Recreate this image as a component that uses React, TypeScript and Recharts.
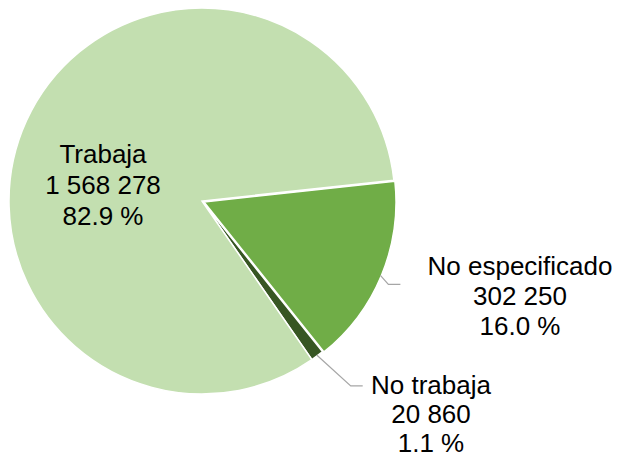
import React from 'react';
import { PieChart, Pie, Cell } from 'recharts';

const categories = ['No especificado', 'No trabaja', 'Trabaja'];
const values = [302250, 20860, 1568278];
const colors = ['#70AD47', '#375623', '#C3DFB0'];

const data = categories.map((name, i) => ({ name, value: values[i] }));
const total = values.reduce((a, b) => a + b, 0);

const fmtNum = (v: number) => String(v).replace(/\B(?=(\d{3})+(?!\d))/g, ' ');
const fmtPct = (v: number) => ((v / total) * 100).toFixed(1) + ' %';

const RAD = Math.PI / 180;
const FONT = 'Liberation Sans, Arial, sans-serif';
const FS = 26;

type Layout = {
  textDx: number;
  baseDy: number;
  lineGap: number;
  elbow?: [number, number];
  tail?: number;
};

const layouts: Record<string, Layout> = {
  Trabaja: { textDx: -99, baseDy: -38, lineGap: 30.8 },
  'No especificado': { textDx: 316, baseDy: 73, lineGap: 30, elbow: [8, 9], tail: 12 },
  'No trabaja': { textDx: 229, baseDy: 193, lineGap: 29, elbow: [34, 31], tail: 12 },
};

const makeLabel = (allowed: string[]) => (props: any) => {
  const { cx, cy, midAngle, outerRadius, name, value } = props;
  if (!allowed.includes(name)) return null;
  const lay = layouts[name];
  const tx = cx + lay.textDx;
  const ty = cy + lay.baseDy;
  let line = null;
  if (lay.elbow) {
    const ex = cx + (outerRadius - 1) * Math.cos(-midAngle * RAD);
    const ey = cy + (outerRadius - 1) * Math.sin(-midAngle * RAD);
    const bx = ex + lay.elbow[0];
    const by = ey + lay.elbow[1];
    const tx2 = bx + (lay.tail || 0);
    line = (
      <polyline
        points={`${ex},${ey} ${bx},${by} ${tx2},${by}`}
        fill="none"
        stroke="#A6A6A6"
        strokeWidth={1.2}
      />
    );
  }
  return (
    <g>
      {line}
      <text
        x={tx}
        y={ty}
        textAnchor="middle"
        fontFamily={FONT}
        fontSize={FS}
        fill="#000000"
      >
        <tspan x={tx} dy={0}>{name}</tspan>
        <tspan x={tx} dy={lay.lineGap}>{fmtNum(value)}</tspan>
        <tspan x={tx} dy={lay.lineGap}>{fmtPct(value)}</tspan>
      </text>
    </g>
  );
};

export default function App() {
  return (
    <div style={{ position: 'absolute', left: 0, top: 0, width: 618, height: 455, background: '#ffffff' }}>
      <PieChart width={618} height={455} margin={{ top: 0, right: 0, bottom: 0, left: 0 }}>
        <Pie
          data={data}
          dataKey="value"
          nameKey="name"
          cx={202}
          cy={201}
          outerRadius={193}
          startAngle={6.2}
          endAngle={-353.8}
          stroke="#ffffff"
          strokeWidth={1.5}
          isAnimationActive={false}
          labelLine={false}
          label={makeLabel(['Trabaja', 'No trabaja'])}
        >
          {data.map((d, i) => (
            <Cell
              key={d.name}
              fill={d.name === 'No especificado' ? 'none' : colors[i]}
              stroke={d.name === 'No especificado' ? 'none' : '#ffffff'}
            />
          ))}
        </Pie>
        <Pie
          data={data}
          dataKey="value"
          nameKey="name"
          cx={204}
          cy={202}
          outerRadius={192}
          startAngle={6.2}
          endAngle={-353.8}
          stroke="#ffffff"
          strokeWidth={1.5}
          isAnimationActive={false}
          labelLine={false}
          label={makeLabel(['No especificado'])}
        >
          {data.map((d, i) => (
            <Cell
              key={d.name}
              fill={d.name === 'No especificado' ? colors[i] : 'none'}
              stroke={d.name === 'No especificado' ? '#ffffff' : 'none'}
            />
          ))}
        </Pie>
      </PieChart>
    </div>
  );
}
